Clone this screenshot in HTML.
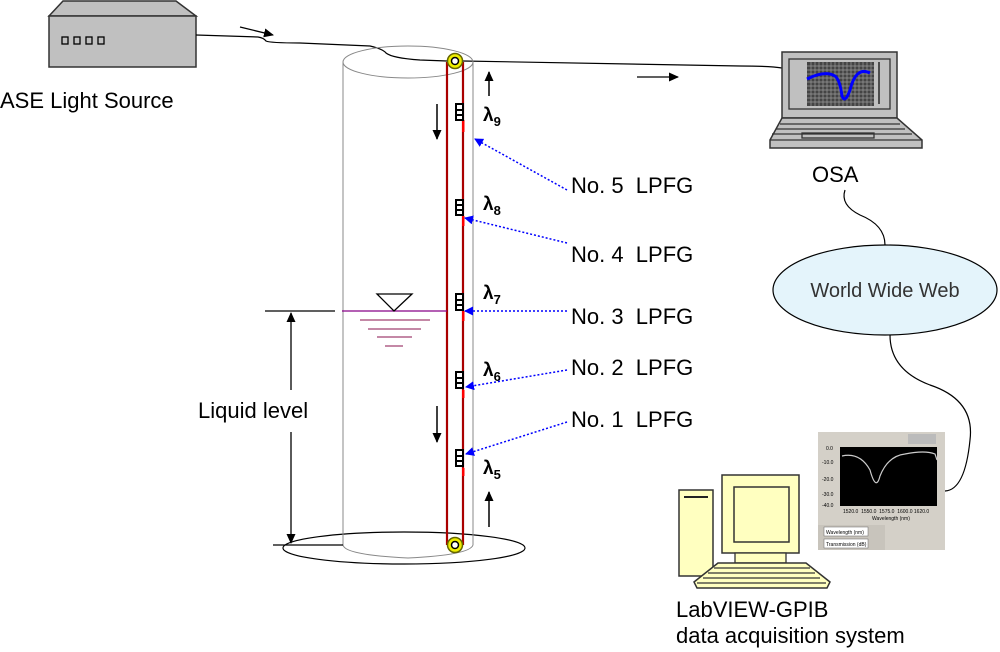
<!DOCTYPE html>
<html><head><meta charset="utf-8"><style>body{margin:0;background:#fff}svg{display:block}text{font-family:"Liberation Sans",sans-serif;white-space:pre}</style></head><body>
<svg width="1000" height="652" viewBox="0 0 1000 652" xmlns="http://www.w3.org/2000/svg">
<defs><marker id="ab" markerWidth="9" markerHeight="9" refX="8" refY="4.5" orient="auto" markerUnits="userSpaceOnUse"><path d="M0,0L9,4.5L0,9Z" fill="#00f"/></marker>
<marker id="ak" markerWidth="10" markerHeight="10" refX="9" refY="5" orient="auto" markerUnits="userSpaceOnUse"><path d="M0,0.5L10,5L0,9.5Z" fill="#000"/></marker></defs>
<!-- light source -->
<polygon points="49,16 63,1 176,1 196,16" fill="#c0c0c0" stroke="#333" stroke-width="1.5"/>
<rect x="49" y="16" width="147" height="51" fill="#c0c0c0" stroke="#333" stroke-width="1.5"/>
<g fill="none" stroke="#000" stroke-width="1.3"><rect x="62" y="37" width="6" height="7"/><rect x="74" y="37" width="6" height="7"/><rect x="86" y="37" width="6" height="7"/><rect x="98" y="37" width="6" height="7"/></g>
<text x="0" y="108" font-size="22">ASE Light Source</text>
<!-- fiber -->
<path d="M196,35 L258,37 Q264,38 266,41 Q270,43 300,43 L370,46 Q383,49 386,53 Q392,58 420,60 L447,61" fill="none" stroke="#000" stroke-width="1.2"/>
<line x1="240" y1="27" x2="273" y2="35" stroke="#000" stroke-width="1.3" marker-end="url(#ak)"/>
<path d="M463,61 L740,66 Q770,66 782,68" fill="none" stroke="#000" stroke-width="1.2"/>
<line x1="637" y1="77" x2="678" y2="77" stroke="#000" stroke-width="1.3" marker-end="url(#ak)"/>
<!-- cylinder -->
<ellipse cx="404" cy="548" rx="121" ry="16" fill="none" stroke="#000" stroke-width="1.2"/>
<ellipse cx="408" cy="62" rx="65" ry="16" fill="none" stroke="#888" stroke-width="1"/>
<line x1="343" y1="62" x2="343" y2="545" stroke="#888"/><line x1="473" y1="62" x2="473" y2="545" stroke="#888"/>
<path d="M343,545 Q345,555 408,558 Q470,555 473,545" fill="none" stroke="#888"/>
<line x1="273" y1="545" x2="343" y2="545" stroke="#000" stroke-width="1.2"/>
<!-- tubes -->
<line x1="447" y1="62" x2="447" y2="545" stroke="#a00" stroke-width="2.2"/>
<line x1="463" y1="62" x2="463" y2="545" stroke="#a00" stroke-width="2.2"/>
<g fill="#ff0000"><rect x="462" y="120" width="2.5" height="12"/><rect x="462" y="216" width="2.5" height="10"/><rect x="462" y="311" width="2.5" height="10"/><rect x="462" y="390" width="2.5" height="8"/><rect x="462" y="468" width="2.5" height="8"/></g>
<g fill="#fff" stroke="#000" stroke-width="2">
<rect x="456" y="104" width="7" height="16"/><rect x="456" y="200" width="7" height="15"/><rect x="456" y="294" width="7" height="16"/><rect x="456" y="372" width="7" height="16"/><rect x="456" y="450" width="7" height="16"/></g>
<g stroke="#000" stroke-width="2"><line x1="456" y1="110" x2="463" y2="110"/><line x1="456" y1="115" x2="463" y2="115"/><line x1="456" y1="205" x2="463" y2="205"/><line x1="456" y1="210" x2="463" y2="210"/><line x1="456" y1="300" x2="463" y2="300"/><line x1="456" y1="305" x2="463" y2="305"/><line x1="456" y1="378" x2="463" y2="378"/><line x1="456" y1="383" x2="463" y2="383"/><line x1="456" y1="456" x2="463" y2="456"/><line x1="456" y1="461" x2="463" y2="461"/></g>
<circle cx="455" cy="61" r="7.5" fill="#ee0" stroke="#660" stroke-width="1.5"/><circle cx="455" cy="61" r="3.5" fill="#fff" stroke="#000" stroke-width="1.5"/>
<circle cx="455" cy="545" r="7.5" fill="#ee0" stroke="#660" stroke-width="1.5"/><circle cx="455" cy="545" r="3.5" fill="#fff" stroke="#000" stroke-width="1.5"/>
<!-- flow arrows -->
<g stroke="#000" stroke-width="1.5"><line x1="489" y1="96" x2="489" y2="72" marker-end="url(#ak)"/><line x1="437" y1="104" x2="437" y2="139" marker-end="url(#ak)"/><line x1="437" y1="406" x2="437" y2="442" marker-end="url(#ak)"/><line x1="489" y1="527" x2="489" y2="492" marker-end="url(#ak)"/></g>
<!-- lambdas -->
<g font-size="19" font-weight="bold"><text x="483" y="121">λ<tspan font-size="13" dy="5">9</tspan></text><text x="483" y="210">λ<tspan font-size="13" dy="5">8</tspan></text><text x="483" y="299">λ<tspan font-size="13" dy="5">7</tspan></text><text x="483" y="376">λ<tspan font-size="13" dy="5">6</tspan></text><text x="483" y="474">λ<tspan font-size="13" dy="5">5</tspan></text></g>
<!-- water -->
<line x1="265" y1="311" x2="335" y2="311" stroke="#000" stroke-width="1.2"/>
<line x1="342" y1="311" x2="447" y2="311" stroke="#808" stroke-width="1.2"/>
<polygon points="377,294 412,294 394,311" fill="#fff" stroke="#000" stroke-width="1.3"/>
<g stroke="#a04070" stroke-width="1.3"><line x1="360" y1="320" x2="430" y2="320"/><line x1="368" y1="329" x2="421" y2="329"/><line x1="377" y1="337" x2="412" y2="337"/><line x1="385" y1="346" x2="403" y2="346"/></g>
<g stroke="#000" stroke-width="1.3"><line x1="291" y1="390" x2="291" y2="313" marker-end="url(#ak)"/><line x1="291" y1="432" x2="291" y2="543" marker-end="url(#ak)"/></g>
<text x="198" y="418" font-size="22">Liquid level</text>
<!-- LPFG labels -->
<g font-size="22"><text x="571" y="193">No. 5&#160;&#160;LPFG</text><text x="571" y="262">No. 4&#160;&#160;LPFG</text><text x="571" y="324">No. 3&#160;&#160;LPFG</text><text x="571" y="375">No. 2&#160;&#160;LPFG</text><text x="571" y="427">No. 1&#160;&#160;LPFG</text></g>
<g stroke="#00f" stroke-width="1.5" stroke-dasharray="2,2" fill="none"><line x1="567" y1="190" x2="475" y2="139" marker-end="url(#ab)"/><line x1="567" y1="243" x2="465" y2="218" marker-end="url(#ab)"/><line x1="567" y1="311" x2="465" y2="311" marker-end="url(#ab)"/><line x1="567" y1="370" x2="466" y2="387" marker-end="url(#ab)"/><line x1="567" y1="422" x2="466" y2="454" marker-end="url(#ab)"/></g>
<!-- laptop -->
<rect x="782" y="52" width="115" height="66" fill="#c0c0c0" stroke="#333" stroke-width="1.5"/>
<rect x="789" y="59" width="101" height="50" fill="#c0c0c0" stroke="#333" stroke-width="1.3"/>
<rect x="807" y="62" width="67" height="44" fill="#444"/>
<g stroke="#999" stroke-width="0.7"><path d="M807,66H874M807,70H874M807,74H874M807,78H874M807,82H874M807,86H874M807,90H874M807,94H874M807,98H874M807,102H874"/><path d="M811,62V106M815,62V106M819,62V106M823,62V106M827,62V106M831,62V106M835,62V106M839,62V106M843,62V106M847,62V106M851,62V106M855,62V106M859,62V106M863,62V106M867,62V106M871,62V106"/></g>
<path d="M807,79 Q825,70 835,76 Q840,80 842,96 Q845,104 850,90 Q856,66 870,73" fill="none" stroke="#00f" stroke-width="3"/>
<line x1="879" y1="62" x2="879" y2="104" stroke="#000" stroke-width="1.2"/>
<polygon points="782,118 897,118 922,140 922,148 770,148 770,140" fill="#c0c0c0" stroke="#333" stroke-width="1.5"/>
<g stroke="#333" stroke-width="1.3"><line x1="780" y1="124" x2="900" y2="124"/><line x1="776" y1="129" x2="905" y2="129"/><line x1="772" y1="134" x2="912" y2="134"/><rect x="802" y="133" width="72" height="5" fill="none"/><line x1="770" y1="140" x2="922" y2="140"/></g>
<text x="812" y="182" font-size="22">OSA</text>
<!-- www -->
<path d="M845,190 Q840,205 860,215 Q885,225 885,245" fill="none" stroke="#000" stroke-width="1.2"/>
<ellipse cx="885" cy="290" rx="112" ry="45" fill="#e4f4fb" stroke="#000" stroke-width="1.2"/>
<text x="885" y="297" font-size="20" text-anchor="middle" fill="#333">World Wide Web</text>
<path d="M890,335 Q890,370 930,385 Q975,400 970,440 Q965,490 945,491" fill="none" stroke="#000" stroke-width="1.2"/>
<!-- labview panel -->
<rect x="818" y="432" width="127" height="118" fill="#d4d0c8"/>
<rect x="908" y="434" width="28" height="10" fill="#bbb"/>
<rect x="840" y="447" width="97" height="59" fill="#000"/>
<path d="M842,456 Q860,452 870,470 Q876,492 880,476 Q888,456 905,454 Q925,450 935,454 L937,460" fill="none" stroke="#ccc" stroke-width="1.2"/>
<g font-size="5" font-family="Liberation Serif" fill="#000"><text x="826" y="450">0.0</text><text x="822" y="464">-10.0</text><text x="822" y="481">-20.0</text><text x="822" y="496">-30.0</text><text x="822" y="507">-40.0</text><text x="843" y="513">1520.0  1550.0  1575.0  1600.0 1620.0</text><text x="872" y="520">Wavelength (nm)</text></g>
<rect x="818" y="525" width="67" height="25" fill="#c8c4bc"/>
<rect x="824" y="527" width="44" height="9" fill="#fff" stroke="#666" stroke-width="0.5"/><rect x="824" y="539" width="44" height="9" fill="#fff" stroke="#666" stroke-width="0.5"/>
<g font-size="5" font-family="Liberation Serif"><text x="826" y="534">Wavelength (nm)</text><text x="826" y="546">Transmission (dB)</text></g>
<!-- computer -->
<rect x="679" y="490" width="34" height="86" fill="#ffffc0" stroke="#333" stroke-width="1.5"/>
<line x1="684" y1="497" x2="708" y2="497" stroke="#222" stroke-width="2"/>
<rect x="722" y="475" width="77" height="78" fill="#ffffc0" stroke="#333" stroke-width="1.5"/>
<rect x="734" y="487" width="55" height="55" fill="#ffffc0" stroke="#333" stroke-width="1.5"/>
<rect x="735" y="553" width="51" height="10" fill="#ffffc0" stroke="#333" stroke-width="1.3"/>
<polygon points="718,563 806,563 830,582 827,588 697,588 694,582" fill="#ffffc0" stroke="#333" stroke-width="1.5"/>
<g stroke="#333" stroke-width="1.2" fill="none"><line x1="714" y1="568" x2="810" y2="568"/><line x1="708" y1="573" x2="815" y2="573"/><line x1="703" y1="578" x2="820" y2="578"/><line x1="697" y1="583" x2="826" y2="583"/></g>
<text x="676" y="617" font-size="22">LabVIEW-GPIB</text>
<text x="676" y="643" font-size="22">data acquisition system</text>
</svg>
</body></html>
